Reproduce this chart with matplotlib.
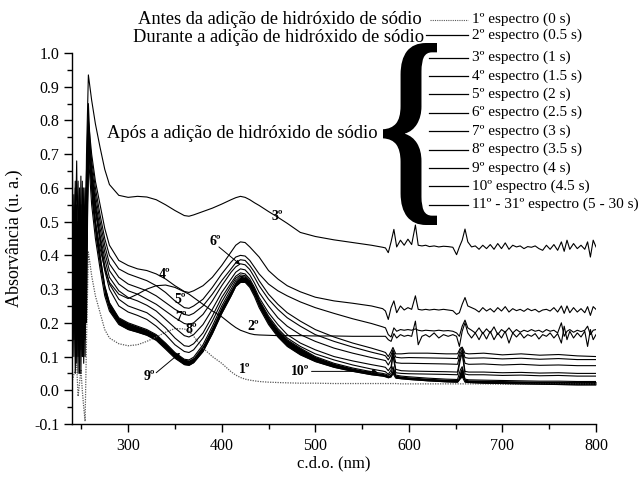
import matplotlib
matplotlib.use('Agg')
import matplotlib.pyplot as plt
from matplotlib.lines import Line2D
from matplotlib.patches import PathPatch
from matplotlib.textpath import TextPath
from matplotlib.font_manager import FontProperties
from matplotlib.transforms import Affine2D
from matplotlib.ticker import MultipleLocator, FormatStrFormatter

# comprimentos de onda (nm)
nm_uv = [240.5, 242, 243.5, 245, 246.5, 248, 249.5, 251, 252.5, 254, 255.5, 257.5]
nm_main = [261, 265, 270, 275, 280, 290, 300, 310, 320, 330,
           340, 350, 360, 365, 370, 380, 390, 400, 410, 415,
           420, 425, 430, 435, 440, 450, 460, 470, 484, 500,
           520, 540, 560, 572]
nm_tail = [575, 578, 581, 584, 587, 591, 595, 599, 603, 607,
           610, 614, 618, 622, 627, 632, 637, 642, 647, 651,
           654, 657, 660, 663, 667, 671, 675, 679, 683, 687,
           691, 695, 699, 703, 707, 711, 715, 719, 723, 727,
           731, 735, 739, 743, 747, 751, 755, 759, 763, 766,
           769, 772, 776, 780, 784, 788, 791, 794, 797, 800]
nm_tail_s = [575, 578, 581, 583, 586, 592, 600, 620, 640, 652,
             655, 657, 660, 664, 680, 700, 720, 740, 760, 780, 800]

# 1º espectro (0 s)
abs1_uv = [0.03, 0.047, 0.06, 0.075, -0.018, 0.02, 0.062, 0.0, -0.05, -0.092, 0.15, 0.41]
abs1_main = [0.34, 0.28, 0.23, 0.18, 0.155, 0.138, 0.132, 0.135, 0.145, 0.158,
             0.172, 0.183, 0.182, 0.175, 0.16, 0.125, 0.1, 0.08, 0.055, 0.045,
             0.038, 0.033, 0.03, 0.028, 0.026, 0.024, 0.023, 0.022, 0.021, 0.021,
             0.02, 0.02, 0.02, 0.02]
abs1_tail = [0.02, 0.02, 0.02, 0.02, 0.02, 0.019, 0.019, 0.019, 0.019, 0.019,
             0.019, 0.019, 0.019, 0.019, 0.019, 0.018, 0.018, 0.018, 0.018, 0.018, 0.018]

# 2º espectro (0.5 s)
abs2_uv = [0.64, 0.2, 0.45, 0.68, 0.3, 0.55, 0.12, 0.6, 0.2, 0.5, 0.65, 0.85]
abs2_main = [0.62, 0.5, 0.42, 0.36, 0.32, 0.285, 0.272, 0.285, 0.3, 0.31,
             0.312, 0.305, 0.292, 0.285, 0.275, 0.255, 0.235, 0.218, 0.196, 0.186,
             0.178, 0.173, 0.168, 0.165, 0.164, 0.163, 0.162, 0.162, 0.162, 0.161,
             0.161, 0.16, 0.16, 0.16]
abs2_tail = [0.16, 0.15, 0.145, 0.168, 0.155, 0.165, 0.16, 0.163, 0.16, 0.205,
             0.135, 0.16, 0.165, 0.158, 0.17, 0.155, 0.165, 0.16, 0.165, 0.16,
             0.13, 0.175, 0.2, 0.17, 0.155, 0.17, 0.15, 0.172, 0.152, 0.175,
             0.15, 0.17, 0.155, 0.175, 0.14, 0.17, 0.158, 0.17, 0.155, 0.165,
             0.16, 0.168, 0.152, 0.165, 0.16, 0.17, 0.155, 0.168, 0.14, 0.19,
             0.15, 0.175, 0.155, 0.17, 0.158, 0.175, 0.13, 0.18, 0.15, 0.165]

# 3º espectro (1 s)
abs3_uv = [0.55, 0.3, 0.62, 0.2, 0.45, 0.15, 0.5, 0.25, 0.6, 0.35, 0.7, 0.935]
abs3_main = [0.86, 0.79, 0.72, 0.655, 0.61, 0.578, 0.572, 0.575, 0.573, 0.565,
             0.55, 0.533, 0.518, 0.516, 0.52, 0.53, 0.54, 0.552, 0.565, 0.571,
             0.575, 0.572, 0.565, 0.556, 0.548, 0.53, 0.513, 0.495, 0.468, 0.456,
             0.446, 0.438, 0.43, 0.424]
abs3_tail = [0.422, 0.408, 0.44, 0.477, 0.425, 0.445, 0.43, 0.448, 0.432, 0.49,
             0.43, 0.428, 0.43, 0.426, 0.428, 0.425, 0.427, 0.426, 0.424, 0.402,
             0.425, 0.445, 0.478, 0.44, 0.425, 0.428, 0.418, 0.43, 0.42, 0.432,
             0.418, 0.435, 0.42, 0.437, 0.418, 0.43, 0.425, 0.428, 0.42, 0.426,
             0.424, 0.428, 0.42, 0.415, 0.43, 0.418, 0.432, 0.415, 0.44, 0.412,
             0.445, 0.418, 0.435, 0.42, 0.43, 0.418, 0.44, 0.395, 0.445, 0.425]

# 4º espectro (1.5 s)
abs4_uv = [0.35, 0.58, 0.15, 0.5, 0.62, 0.25, 0.635, 0.1, 0.45, 0.2, 0.55, 0.80]
abs4_main = [0.70, 0.62, 0.55, 0.48, 0.43, 0.385, 0.37, 0.36, 0.355, 0.345,
             0.33, 0.31, 0.293, 0.29, 0.295, 0.31, 0.335, 0.37, 0.41, 0.43,
             0.44, 0.438, 0.425, 0.41, 0.395, 0.355, 0.33, 0.31, 0.292, 0.276,
             0.265, 0.258, 0.25, 0.242]
abs4_tail = [0.235, 0.21, 0.245, 0.265, 0.23, 0.25, 0.238, 0.245, 0.24, 0.28,
             0.24, 0.238, 0.24, 0.238, 0.24, 0.238, 0.24, 0.238, 0.236, 0.225,
             0.23, 0.255, 0.275, 0.25, 0.245, 0.24, 0.232, 0.245, 0.235, 0.242,
             0.232, 0.245, 0.235, 0.248, 0.232, 0.242, 0.236, 0.24, 0.234, 0.242,
             0.236, 0.24, 0.232, 0.238, 0.24, 0.235, 0.245, 0.232, 0.25, 0.228,
             0.25, 0.23, 0.245, 0.232, 0.242, 0.23, 0.248, 0.222, 0.248, 0.24]

# 5º espectro (2 s)
abs5_uv = [0.2, 0.45, 0.6, 0.1, 0.4, 0.58, 0.3, 0.62, 0.08, 0.4, 0.5, 0.78]
abs5_main = [0.68, 0.60, 0.52, 0.45, 0.40, 0.36, 0.345, 0.335, 0.325, 0.31,
             0.29, 0.265, 0.245, 0.243, 0.25, 0.27, 0.305, 0.345, 0.38, 0.395,
             0.40, 0.398, 0.385, 0.365, 0.345, 0.315, 0.295, 0.28, 0.262, 0.245,
             0.228, 0.212, 0.198, 0.188]
abs5_tail = [0.185, 0.165, 0.158, 0.185, 0.175, 0.18, 0.178, 0.18, 0.178, 0.182,
             0.178, 0.176, 0.178, 0.177, 0.176, 0.178, 0.176, 0.177, 0.175, 0.17,
             0.16, 0.19, 0.208, 0.185, 0.178, 0.17, 0.185, 0.168, 0.182, 0.17,
             0.188, 0.165, 0.18, 0.172, 0.185, 0.17, 0.18, 0.172, 0.178, 0.174,
             0.18, 0.175, 0.178, 0.172, 0.18, 0.175, 0.178, 0.17, 0.2, 0.16,
             0.175, 0.18, 0.172, 0.178, 0.174, 0.178, 0.19, 0.165, 0.178, 0.18]

# 6º a 10º espectro (2.5 s - 4.5 s)
abs6_uv = [0.5, 0.1, 0.35, 0.55, 0.05, 0.45, 0.2, 0.55, 0.35, 0.1, 0.6, 0.76]
abs6_main = [0.66, 0.58, 0.50, 0.43, 0.375, 0.335, 0.315, 0.305, 0.295, 0.28,
             0.26, 0.24, 0.225, 0.222, 0.228, 0.25, 0.285, 0.325, 0.36, 0.378,
             0.387, 0.385, 0.37, 0.35, 0.325, 0.285, 0.255, 0.23, 0.205, 0.18,
             0.158, 0.14, 0.125, 0.115]
abs6_tail = [0.112, 0.1, 0.115, 0.127, 0.108, 0.108, 0.11, 0.11, 0.108, 0.108,
             0.125, 0.128, 0.11, 0.108, 0.11, 0.105, 0.108, 0.104, 0.106, 0.102, 0.10]

abs7_uv = [0.15, 0.4, 0.05, 0.3, 0.5, 0.1, 0.55, 0.15, 0.45, 0.6, 0.2, 0.75]
abs7_main = [0.65, 0.56, 0.48, 0.41, 0.355, 0.315, 0.295, 0.285, 0.27, 0.255,
             0.235, 0.215, 0.198, 0.195, 0.2, 0.225, 0.265, 0.31, 0.35, 0.366,
             0.375, 0.372, 0.358, 0.335, 0.31, 0.27, 0.24, 0.215, 0.19, 0.165,
             0.145, 0.128, 0.113, 0.105]
abs7_tail = [0.102, 0.09, 0.105, 0.12, 0.098, 0.096, 0.097, 0.096, 0.095, 0.094,
             0.12, 0.125, 0.097, 0.095, 0.096, 0.093, 0.095, 0.092, 0.094, 0.091, 0.091]

abs8_uv = [0.4, 0.25, 0.5, 0.08, 0.35, 0.6, 0.05, 0.4, 0.2, 0.5, 0.4, 0.74]
abs8_main = [0.64, 0.55, 0.46, 0.39, 0.335, 0.295, 0.275, 0.265, 0.252, 0.235,
             0.21, 0.185, 0.162, 0.158, 0.165, 0.195, 0.24, 0.29, 0.33, 0.35,
             0.36, 0.357, 0.342, 0.318, 0.29, 0.25, 0.215, 0.19, 0.165, 0.145,
             0.125, 0.11, 0.097, 0.09]
abs8_tail = [0.088, 0.075, 0.09, 0.115, 0.082, 0.08, 0.08, 0.079, 0.078, 0.077,
             0.11, 0.12, 0.08, 0.077, 0.078, 0.075, 0.077, 0.074, 0.075, 0.073, 0.073]

abs9_uv = [0.3, 0.5, 0.2, 0.45, 0.1, 0.3, 0.5, 0.1, 0.55, 0.15, 0.45, 0.73]
abs9_main = [0.63, 0.54, 0.45, 0.37, 0.315, 0.27, 0.25, 0.24, 0.23, 0.21,
             0.185, 0.155, 0.132, 0.13, 0.138, 0.17, 0.22, 0.275, 0.318, 0.338,
             0.348, 0.345, 0.33, 0.305, 0.275, 0.23, 0.195, 0.165, 0.14, 0.12,
             0.1, 0.087, 0.076, 0.07]
abs9_tail = [0.068, 0.058, 0.07, 0.11, 0.062, 0.058, 0.057, 0.056, 0.055, 0.054,
             0.1, 0.115, 0.056, 0.054, 0.054, 0.052, 0.053, 0.051, 0.052, 0.05, 0.05]

abs10_uv = [0.45, 0.15, 0.55, 0.25, 0.5, 0.05, 0.4, 0.3, 0.1, 0.45, 0.3, 0.72]
abs10_main = [0.62, 0.53, 0.44, 0.355, 0.3, 0.25, 0.232, 0.222, 0.21, 0.19,
              0.165, 0.135, 0.115, 0.112, 0.12, 0.155, 0.205, 0.262, 0.31, 0.332,
              0.342, 0.34, 0.325, 0.3, 0.268, 0.22, 0.183, 0.155, 0.13, 0.108,
              0.09, 0.075, 0.063, 0.057]
abs10_tail = [0.055, 0.047, 0.06, 0.105, 0.052, 0.05, 0.049, 0.048, 0.047, 0.046,
              0.09, 0.11, 0.048, 0.046, 0.046, 0.044, 0.045, 0.043, 0.044, 0.042, 0.042]

# 11º - 31º espectro (5 - 30 s): limites superior e inferior do feixe
bund_hi_uv = [0.5, 0.3, 0.45, 0.2, 0.4, 0.3, 0.35, 0.15, 0.4, 0.25, 0.45, 0.74]
bund_hi_main = [0.60, 0.50, 0.40, 0.31, 0.26, 0.215, 0.2, 0.19, 0.18, 0.165,
                0.14, 0.112, 0.092, 0.09, 0.098, 0.135, 0.19, 0.25, 0.3, 0.325,
                0.338, 0.336, 0.322, 0.298, 0.265, 0.215, 0.178, 0.15, 0.125, 0.1,
                0.08, 0.066, 0.055, 0.05]
bund_hi_tail = [0.048, 0.044, 0.05, 0.07, 0.045, 0.042, 0.04, 0.036, 0.033, 0.032,
                0.06, 0.07, 0.033, 0.031, 0.03, 0.029, 0.028, 0.027, 0.027, 0.026, 0.026]
bund_lo_uv = [0.45, 0.25, 0.4, 0.15, 0.35, 0.25, 0.3, 0.1, 0.35, 0.2, 0.4, 0.70]
bund_lo_main = [0.55, 0.45, 0.36, 0.28, 0.235, 0.195, 0.18, 0.172, 0.163, 0.148,
                0.122, 0.095, 0.076, 0.074, 0.082, 0.115, 0.168, 0.228, 0.28, 0.308,
                0.32, 0.32, 0.305, 0.278, 0.245, 0.195, 0.158, 0.13, 0.105, 0.085,
                0.068, 0.056, 0.046, 0.042]
bund_lo_tail = [0.04, 0.037, 0.04, 0.05, 0.036, 0.034, 0.032, 0.028, 0.025, 0.024,
                0.035, 0.04, 0.024, 0.023, 0.021, 0.02, 0.019, 0.018, 0.017, 0.016, 0.016]

legend_labels = ['1º espectro (0 s)', '2º espectro (0.5 s)', '3º espectro (1 s)',
                 '4º espectro (1.5 s)', '5º espectro (2 s)', '6º espectro (2.5 s)',
                 '7º espectro (3 s)', '8º espectro (3.5 s)', '9º espectro (4 s)',
                 '10º espectro (4.5 s)', '11º - 31º espectro (5 - 30 s)']

plt.rcParams['font.family'] = 'serif'
plt.rcParams['font.serif'] = ['Liberation Serif']

W, H = 642, 479
fig = plt.figure(figsize=(W / 100, H / 100), dpi=100)
ax = fig.add_axes([72 / W, 1 - 424 / H, 524 / W, 371 / H])


def fx(px):
    return px / W


def fy(py):
    return 1 - py / H


lw = 0.8
x_dense = nm_uv + nm_main + nm_tail
x_sparse = nm_uv + nm_main + nm_tail_s

ax.plot(x_sparse, abs1_uv + abs1_main + abs1_tail, color='0.35', lw=0.9,
        linestyle=(0, (1, 1)))
for uv, main, tail in [(abs2_uv, abs2_main, abs2_tail), (abs3_uv, abs3_main, abs3_tail),
                       (abs4_uv, abs4_main, abs4_tail), (abs5_uv, abs5_main, abs5_tail)]:
    ax.plot(x_dense, uv + main + tail, color='black', lw=lw)
for uv, main, tail in [(abs6_uv, abs6_main, abs6_tail), (abs7_uv, abs7_main, abs7_tail),
                       (abs8_uv, abs8_main, abs8_tail), (abs9_uv, abs9_main, abs9_tail),
                       (abs10_uv, abs10_main, abs10_tail)]:
    ax.plot(x_sparse, uv + main + tail, color='black', lw=lw)

bund_hi = bund_hi_uv + bund_hi_main + bund_hi_tail
bund_lo = bund_lo_uv + bund_lo_main + bund_lo_tail
ax.fill_between(x_sparse, bund_lo, bund_hi, color='black', lw=0)
ax.plot(x_sparse, bund_hi, color='black', lw=lw)
ax.plot(x_sparse, bund_lo, color='black', lw=lw)

# rótulos das curvas
lab = dict(fontsize=10, fontweight='bold', ha='center', va='center')
ax.text(425, 0.061, '1º', **lab)
ax.text(434, 0.19, '2º', **lab)
ax.text(459, 0.516, '3º', **lab)
ax.text(339, 0.343, '4º', **lab)
ax.text(355.5, 0.27, '5º', **lab)
ax.text(393, 0.442, '6º', **lab)
ax.text(357, 0.215, '7º', **lab)
ax.text(368, 0.18, '8º', **lab)
ax.text(323, 0.04, '9º', **lab)
ax.text(484, 0.056, '10º', **lab)
arr = dict(arrowstyle='-|>', lw=0.7, color='black', mutation_scale=6,
           shrinkA=0, shrinkB=0)
ax.annotate('', xy=(419.7, 0.373), xytext=(397, 0.425), arrowprops=arr)
ax.annotate('', xy=(355.5, 0.111), xytext=(330, 0.052), arrowprops=arr)
ax.annotate('', xy=(566, 0.056), xytext=(496, 0.056), arrowprops=arr)

ax.set_xlim(240, 800)
ax.set_ylim(-0.1, 1.0)
ax.xaxis.set_major_locator(MultipleLocator(100))
ax.xaxis.set_minor_locator(MultipleLocator(50))
ax.yaxis.set_major_locator(MultipleLocator(0.1))
ax.yaxis.set_minor_locator(MultipleLocator(0.05))
ax.yaxis.set_major_formatter(FormatStrFormatter('%.1f'))
ax.tick_params(which='major', direction='out', length=6, width=1, labelsize=11.5)
ax.tick_params(axis='x', which='major', pad=4)
ax.tick_params(axis='y', which='major', pad=3)
ax.tick_params(which='minor', direction='out', length=3.5, width=1)
for s in ['top', 'right']:
    ax.spines[s].set_visible(False)
for s in ['left', 'bottom']:
    ax.spines[s].set_linewidth(1)
ax.set_xlabel('c.d.o. (nm)', fontsize=12, labelpad=1)
ax.set_ylabel('Absorvância (u. a.)', fontsize=13, labelpad=8)

# legenda montada à mão
big = 13.3
fig.text(fx(422), fy(20), 'Antes da adição de hidróxido de sódio', fontsize=big,
         ha='right', va='center')
fig.text(fx(424), fy(37), 'Durante a adição de hidróxido de sódio', fontsize=big,
         ha='right', va='center')
fig.text(fx(378), fy(134), 'Após a adição de hidróxido de sódio', fontsize=big,
         ha='right', va='center')

rows_y = [19.5, 35, 57.5, 75.9, 94.3, 112.7, 131.1, 149.5, 167.9, 186.3, 204.7]
for i, (label, yy) in enumerate(zip(legend_labels, rows_y)):
    x0 = 430 if i == 0 else (426 if i == 1 else 429)
    if i == 0:
        ln = Line2D([fx(x0), fx(468)], [fy(yy), fy(yy)], transform=fig.transFigure,
                    color='0.35', lw=0.8, linestyle=(0, (1, 1)))
    else:
        ln = Line2D([fx(x0), fx(468)], [fy(yy), fy(yy)], transform=fig.transFigure,
                    color='black', lw=0.9)
    fig.add_artist(ln)
    fig.text(fx(472), fy(yy), label, fontsize=11, ha='left', va='center')

# chave grande
tp = TextPath((0, 0), '{', size=100,
              prop=FontProperties(family='Liberation Serif', weight='bold'))
ext = tp.get_extents()
bx0, bx1, by0, by1 = 383, 437, 43, 225
tr = (Affine2D().translate(-ext.x0, -ext.y0)
      .scale((bx1 - bx0) / ext.width / W, (by1 - by0) / ext.height / H)
      .translate(fx(bx0), fy(by1)))
brace = PathPatch(tr.transform_path(tp), facecolor='black', edgecolor='none',
                  transform=fig.transFigure)
fig.add_artist(brace)

fig.savefig('out.png', dpi=100)
